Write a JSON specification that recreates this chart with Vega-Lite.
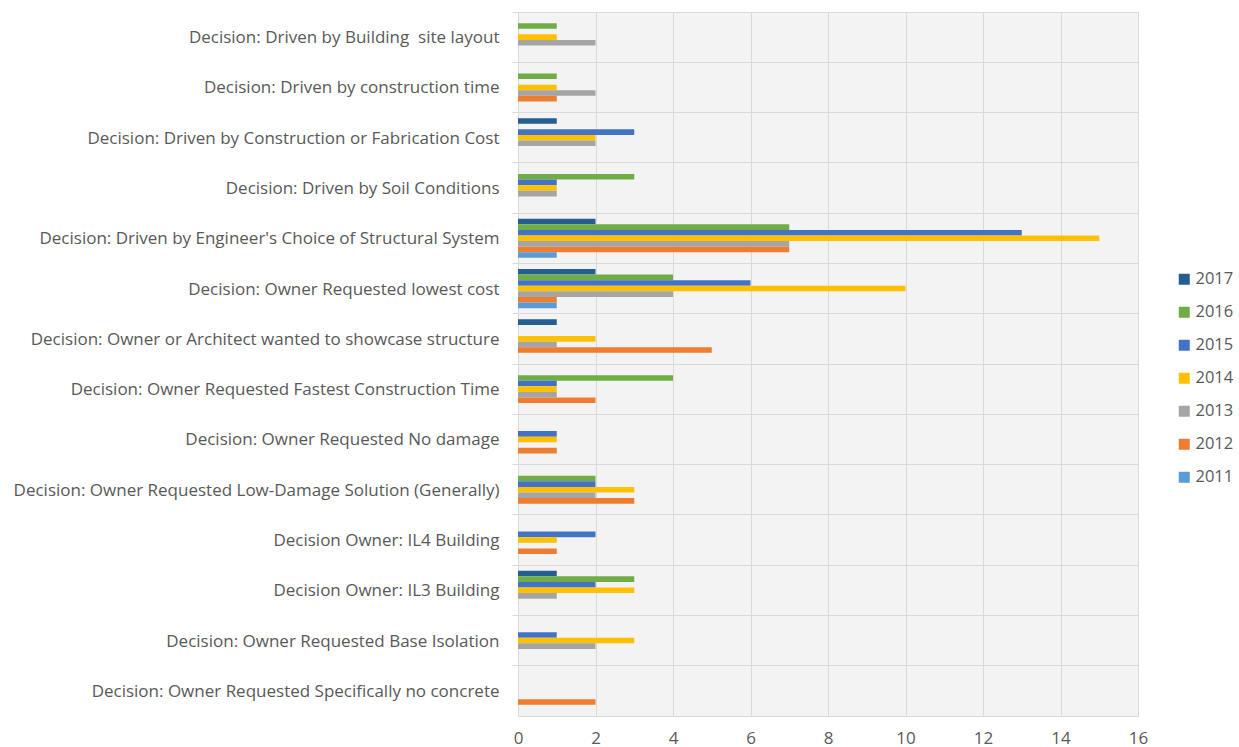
{
  "$schema": "https://vega.github.io/schema/vega-lite/v6.json",
  "width": 620,
  "height": 704,
  "autosize": {"type": "none"},
  "padding": {"left": 518, "top": 12, "right": 101, "bottom": 31},
  "background": "white",
  "config": {
    "font": "Open Sans",
    "view": {"fill": "#f3f3f3", "stroke": null},
    "axis": {"labelColor": "#595959", "labelFont": "Open Sans", "labelFontSize": 17, "gridColor": "#d9d9d9", "domainColor": "#d9d9d9", "tickColor": "#d9d9d9", "title": null}
  },
  "data": {
    "values": [
      {"cat": "Decision: Driven by Building\u00a0 site layout", "year": "2016", "v": 1},
      {"cat": "Decision: Driven by Building\u00a0 site layout", "year": "2014", "v": 1},
      {"cat": "Decision: Driven by Building\u00a0 site layout", "year": "2013", "v": 2},
      {"cat": "Decision: Driven by construction time", "year": "2016", "v": 1},
      {"cat": "Decision: Driven by construction time", "year": "2014", "v": 1},
      {"cat": "Decision: Driven by construction time", "year": "2013", "v": 2},
      {"cat": "Decision: Driven by construction time", "year": "2012", "v": 1},
      {"cat": "Decision: Driven by Construction or Fabrication Cost", "year": "2017", "v": 1},
      {"cat": "Decision: Driven by Construction or Fabrication Cost", "year": "2015", "v": 3},
      {"cat": "Decision: Driven by Construction or Fabrication Cost", "year": "2014", "v": 2},
      {"cat": "Decision: Driven by Construction or Fabrication Cost", "year": "2013", "v": 2},
      {"cat": "Decision: Driven by Soil Conditions", "year": "2016", "v": 3},
      {"cat": "Decision: Driven by Soil Conditions", "year": "2015", "v": 1},
      {"cat": "Decision: Driven by Soil Conditions", "year": "2014", "v": 1},
      {"cat": "Decision: Driven by Soil Conditions", "year": "2013", "v": 1},
      {"cat": "Decision: Driven by Engineer's Choice of Structural System", "year": "2017", "v": 2},
      {"cat": "Decision: Driven by Engineer's Choice of Structural System", "year": "2016", "v": 7},
      {"cat": "Decision: Driven by Engineer's Choice of Structural System", "year": "2015", "v": 13},
      {"cat": "Decision: Driven by Engineer's Choice of Structural System", "year": "2014", "v": 15},
      {"cat": "Decision: Driven by Engineer's Choice of Structural System", "year": "2013", "v": 7},
      {"cat": "Decision: Driven by Engineer's Choice of Structural System", "year": "2012", "v": 7},
      {"cat": "Decision: Driven by Engineer's Choice of Structural System", "year": "2011", "v": 1},
      {"cat": "Decision: Owner Requested lowest cost", "year": "2017", "v": 2},
      {"cat": "Decision: Owner Requested lowest cost", "year": "2016", "v": 4},
      {"cat": "Decision: Owner Requested lowest cost", "year": "2015", "v": 6},
      {"cat": "Decision: Owner Requested lowest cost", "year": "2014", "v": 10},
      {"cat": "Decision: Owner Requested lowest cost", "year": "2013", "v": 4},
      {"cat": "Decision: Owner Requested lowest cost", "year": "2012", "v": 1},
      {"cat": "Decision: Owner Requested lowest cost", "year": "2011", "v": 1},
      {"cat": "Decision: Owner or Architect wanted to showcase structure", "year": "2017", "v": 1},
      {"cat": "Decision: Owner or Architect wanted to showcase structure", "year": "2014", "v": 2},
      {"cat": "Decision: Owner or Architect wanted to showcase structure", "year": "2013", "v": 1},
      {"cat": "Decision: Owner or Architect wanted to showcase structure", "year": "2012", "v": 5},
      {"cat": "Decision: Owner Requested Fastest Construction Time", "year": "2016", "v": 4},
      {"cat": "Decision: Owner Requested Fastest Construction Time", "year": "2015", "v": 1},
      {"cat": "Decision: Owner Requested Fastest Construction Time", "year": "2014", "v": 1},
      {"cat": "Decision: Owner Requested Fastest Construction Time", "year": "2013", "v": 1},
      {"cat": "Decision: Owner Requested Fastest Construction Time", "year": "2012", "v": 2},
      {"cat": "Decision: Owner Requested No damage", "year": "2015", "v": 1},
      {"cat": "Decision: Owner Requested No damage", "year": "2014", "v": 1},
      {"cat": "Decision: Owner Requested No damage", "year": "2012", "v": 1},
      {"cat": "Decision: Owner Requested Low-Damage Solution (Generally)", "year": "2016", "v": 2},
      {"cat": "Decision: Owner Requested Low-Damage Solution (Generally)", "year": "2015", "v": 2},
      {"cat": "Decision: Owner Requested Low-Damage Solution (Generally)", "year": "2014", "v": 3},
      {"cat": "Decision: Owner Requested Low-Damage Solution (Generally)", "year": "2013", "v": 2},
      {"cat": "Decision: Owner Requested Low-Damage Solution (Generally)", "year": "2012", "v": 3},
      {"cat": "Decision Owner: IL4 Building", "year": "2015", "v": 2},
      {"cat": "Decision Owner: IL4 Building", "year": "2014", "v": 1},
      {"cat": "Decision Owner: IL4 Building", "year": "2012", "v": 1},
      {"cat": "Decision Owner: IL3 Building", "year": "2017", "v": 1},
      {"cat": "Decision Owner: IL3 Building", "year": "2016", "v": 3},
      {"cat": "Decision Owner: IL3 Building", "year": "2015", "v": 2},
      {"cat": "Decision Owner: IL3 Building", "year": "2014", "v": 3},
      {"cat": "Decision Owner: IL3 Building", "year": "2013", "v": 1},
      {"cat": "Decision: Owner Requested Base Isolation", "year": "2015", "v": 1},
      {"cat": "Decision: Owner Requested Base Isolation", "year": "2014", "v": 3},
      {"cat": "Decision: Owner Requested Base Isolation", "year": "2013", "v": 2},
      {"cat": "Decision: Owner Requested Specifically no concrete", "year": "2012", "v": 2}
    ]
  },
  "mark": {"type": "bar"},
  "encoding": {
    "y": {
      "field": "cat",
      "type": "nominal",
      "scale": {
        "domain": [
          "Decision: Driven by Building\u00a0 site layout",
          "Decision: Driven by construction time",
          "Decision: Driven by Construction or Fabrication Cost",
          "Decision: Driven by Soil Conditions",
          "Decision: Driven by Engineer's Choice of Structural System",
          "Decision: Owner Requested lowest cost",
          "Decision: Owner or Architect wanted to showcase structure",
          "Decision: Owner Requested Fastest Construction Time",
          "Decision: Owner Requested No damage",
          "Decision: Owner Requested Low-Damage Solution (Generally)",
          "Decision Owner: IL4 Building",
          "Decision Owner: IL3 Building",
          "Decision: Owner Requested Base Isolation",
          "Decision: Owner Requested Specifically no concrete"
        ],
        "paddingInner": 0,
        "paddingOuter": 0
      },
      "axis": {"bandPosition": 0, "grid": true, "tickSize": 6, "labelPadding": 13, "domain": true, "labelLimit": 520, "labelOffset": 1}
    },
    "yOffset": {
      "field": "year",
      "type": "nominal",
      "scale": {"domain": ["2017", "2016", "2015", "2014", "2013", "2012", "2011"], "paddingInner": 0, "paddingOuter": 1.25}
    },
    "x": {
      "field": "v",
      "type": "quantitative",
      "scale": {"domain": [0, 16]},
      "axis": {"values": [0, 2, 4, 6, 8, 10, 12, 14, 16], "grid": true, "ticks": false, "labelPadding": 14, "labelFlush": false, "domain": true}
    },
    "color": {
      "field": "year",
      "type": "nominal",
      "scale": {
        "domain": ["2017", "2016", "2015", "2014", "2013", "2012", "2011"],
        "range": ["#255E91", "#70AD47", "#4472C4", "#FFC000", "#A5A5A5", "#ED7D31", "#5B9BD5"]
      },
      "legend": {
        "orient": "none",
        "legendX": 658,
        "legendY": 259,
        "title": null,
        "symbolType": "square",
        "symbolSize": 121,
        "symbolStrokeWidth": 0,
        "labelFontSize": 16.5,
        "labelColor": "#595959",
        "labelFont": "Open Sans",
        "rowPadding": 16,
        "labelOffset": 3
      }
    }
  }
}
